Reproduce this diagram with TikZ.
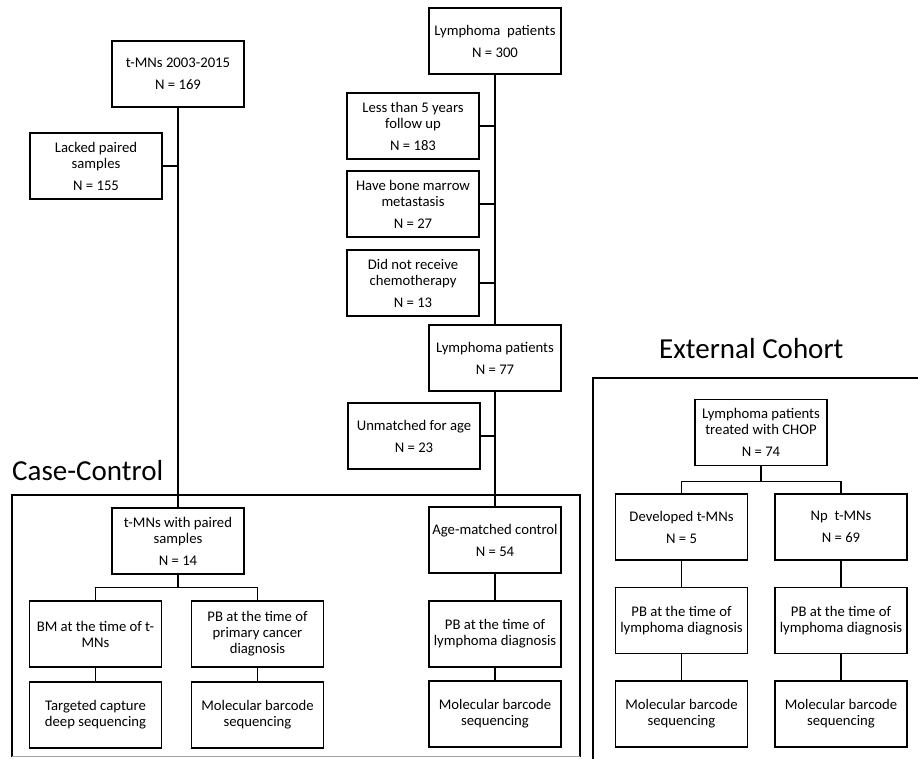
\documentclass[tikz,border=0pt]{standalone}
\usepackage{fontspec}
\setmainfont{Carlito}
\begin{document}
\begin{tikzpicture}[x=1pt,y=-1pt,
  box/.style={draw, line width=1.4pt, minimum width=132pt, minimum height=66pt,
    inner sep=1pt, align=center, font=\fontsize{14.7}{16}\selectfont},
  conn/.style={line width=1.4pt},
  frame/.style={line width=1.4pt},
  title/.style={font=\fontsize{29}{34}\selectfont, anchor=base west, inner sep=0pt}]
\useasboundingbox (0,0) rectangle (918,758);
% frames
\draw[frame] (12,757) -- (12,495) -- (580,495) -- (580,757);
\draw[line width=1pt, black!35] (12,756.5) -- (580,756.5);
\draw[frame] (593,760) -- (593,378) -- (920,378);
\node[title] (cc) at (12,480) {Case-Control};
\node[title] (ec) at (659,358) {External Cohort};
% left column
\node[box] (t1) at (178,74) {t-MNs 2003-2015\\[6pt]N = 169};
\node[box] (lack) at (96,166) {Lacked paired\\samples\\[6pt]N = 155};
% middle column
\node[box] (l300) at (495,41) {Lymphoma\ \ patients\\[6pt]N = 300};
\node[box] (less5) at (413,126) {Less than 5 years\\follow up\\[6pt]N = 183};
\node[box] (bone) at (413,204) {Have bone marrow\\metastasis\\[6pt]N = 27};
\node[box] (chemo) at (413,283) {Did not receive\\chemotherapy\\[6pt]N = 13};
\node[box] (l77) at (495,358) {Lymphoma patients\\[6pt]N = 77};
\node[box] (unm) at (414,436) {Unmatched for age\\[6pt]N = 23};
% case-control
\node[box] (paired) at (178,541) {t-MNs with paired\\samples\\[6pt]N = 14};
\node[box] (bm) at (95.5,634) {BM at the time of t-\\MNs};
\node[box] (pbp) at (257.5,634) {PB at the time of\\primary cancer\\diagnosis};
\node[box] (tcap) at (95.5,715) {Targeted capture\\deep sequencing};
\node[box] (mb1) at (257.5,715) {Molecular barcode\\sequencing};
\node[box] (age) at (495,540) {Age-matched control\\[6pt]N = 54};
\node[box] (pbl) at (495,634) {PB at the time of\\lymphoma diagnosis};
\node[box] (mb2) at (495,714) {Molecular barcode\\sequencing};
% external cohort
\node[box] (chop) at (761,432.5) {Lymphoma patients\\treated with CHOP\\[6pt]N = 74};
\node[box] (dev) at (681.5,527) {Developed t-MNs\\[6pt]N = 5};
\node[box] (np) at (841,527) {Np\ \ t-MNs\\[6pt]N = 69};
\node[box] (pbd) at (681.5,620.5) {PB at the time of\\lymphoma diagnosis};
\node[box] (pbn) at (841,620.5) {PB at the time of\\lymphoma diagnosis};
\node[box] (mbd) at (681.5,714) {Molecular barcode\\sequencing};
\node[box] (mbn) at (841,714) {Molecular barcode\\sequencing};
% connectors
\draw[conn] (t1.south) -- (paired.north);
\draw[conn] (lack.east) -- (lack.east -| t1.south);
\draw[conn] (l300.south) -- (l77.north);
\draw[conn] (less5.east) -- (less5.east -| l300.south);
\draw[conn] (bone.east) -- (bone.east -| l300.south);
\draw[conn] (chemo.east) -- (chemo.east -| l300.south);
\draw[conn] (l77.south) -- (age.north);
\draw[conn] (unm.east) -- (unm.east -| l77.south);
\draw[conn] (paired.south) -- ++(0,13) -| (bm.north);
\draw[conn] (paired.south) -- ++(0,13) -| (pbp.north);
\draw[conn] (bm.south) -- (tcap.north);
\draw[conn] (pbp.south) -- (mb1.north);
\draw[conn] (age.south) -- (pbl.north);
\draw[conn] (pbl.south) -- (mb2.north);
\draw[conn] (chop.south) -- ++(0,15) -| (dev.north);
\draw[conn] (chop.south) -- ++(0,15) -| (np.north);
\draw[conn] (dev.south) -- (pbd.north);
\draw[conn] (np.south) -- (pbn.north);
\draw[conn] (pbd.south) -- (mbd.north);
\draw[conn] (pbn.south) -- (mbn.north);
\end{tikzpicture}
\end{document}
